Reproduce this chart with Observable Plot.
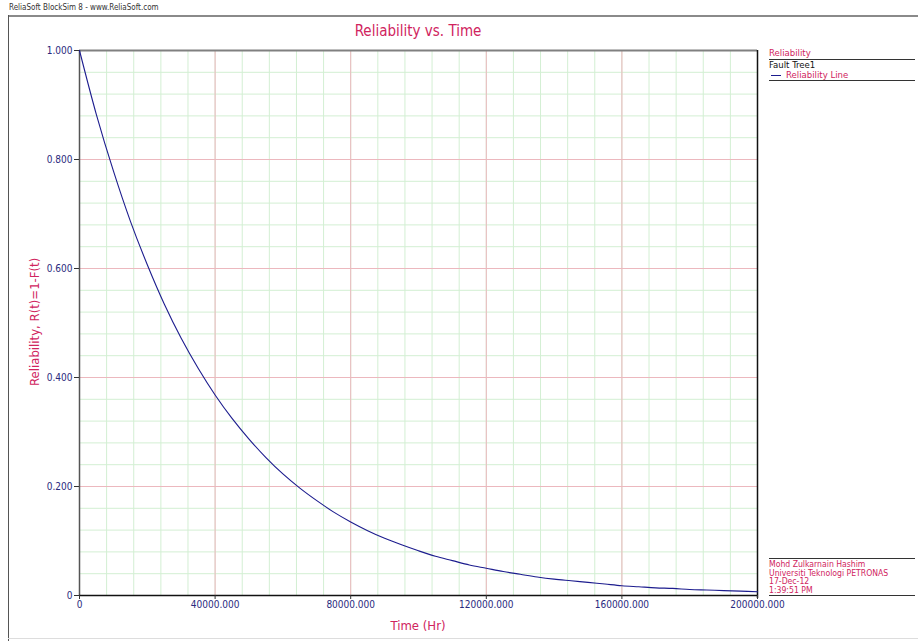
<!DOCTYPE html>
<html>
<head>
<meta charset="utf-8">
<script src="https://cdn.jsdelivr.net/npm/d3@7"></script>
<script src="https://cdn.jsdelivr.net/npm/@observablehq/plot@0.6"></script>
<style>
  html, body { margin: 0; padding: 0; background: #fff; }
  #wrap { position: relative; width: 918px; height: 641px; overflow: hidden; font-family: "DejaVu Sans Condensed", "DejaVu Sans", sans-serif; }
  #wrap svg { position: absolute; left: 0; top: 0; }
  .abs { position: absolute; white-space: nowrap; }
  .hl { position: absolute; height: 0; }
</style>
</head>
<body>
<div id="wrap"></div>
<script>
// ---- data ----
const timeHr = [0, 5000, 10000, 15000, 20000, 25000, 30000, 35000, 40000, 45000, 50000,
  55000, 60000, 65000, 70000, 75000, 80000, 85000, 90000, 95000, 100000,
  105000, 110000, 115000, 120000, 125000, 130000, 135000, 140000, 145000, 150000,
  155000, 160000, 165000, 170000, 175000, 180000, 185000, 190000, 195000, 200000];
const reliability = [1.000, 0.882, 0.779, 0.687, 0.607, 0.535, 0.472, 0.417, 0.368, 0.325, 0.287,
  0.253, 0.223, 0.197, 0.174, 0.153, 0.135, 0.119, 0.105, 0.093, 0.082,
  0.072, 0.064, 0.056, 0.050, 0.044, 0.039, 0.034, 0.030, 0.027, 0.024,
  0.021, 0.018, 0.016, 0.014, 0.013, 0.011, 0.010, 0.009, 0.008, 0.007];
const xMajorTicks = [0, 40000, 80000, 120000, 160000, 200000];
const xMinorTicks = d3.range(0, 200001, 8000);
const yMajorTicks = [0, 0.2, 0.4, 0.6, 0.8, 1.0];
const yMinorTicks = d3.range(0, 26).map(i => i * 0.04);
const titleText = "Reliability vs. Time";
const xLabel = "Time (Hr)";
const yLabel = "Reliability, R(t)=1-F(t)";
const headerText = "ReliaSoft BlockSim 8 - www.ReliaSoft.com";
const legendTitle = "Reliability";
const legendGroup = "Fault Tree1";
const legendSeries = "Reliability Line";
const footerLines = ["Mohd Zulkarnain Hashim", "Universiti Teknologi PETRONAS", "17-Dec-12", "1:39:51 PM"];

const data = timeHr.map((t, i) => ({t, r: reliability[i]}));
const fmt = v => v === 0 ? "0" : v.toFixed(3);
const navy = "#2a2a7e";
const font = '"DejaVu Sans Condensed", "DejaVu Sans", sans-serif';

const chart = Plot.plot({
  width: 918,
  height: 641,
  marginLeft: 79,
  marginRight: 161,
  marginTop: 50,
  marginBottom: 46,
  style: {fontFamily: font, fontSize: "10px", background: "transparent"},
  x: {domain: [0, 200000]},
  y: {domain: [0, 1]},
  marks: [
    Plot.ruleX(xMinorTicks, {stroke: "#d3efd3", strokeWidth: 1}),
    Plot.ruleY(yMinorTicks, {stroke: "#d3efd3", strokeWidth: 1}),
    Plot.ruleX(xMajorTicks, {stroke: "#ecb8be", strokeWidth: 1}),
    Plot.ruleY(yMajorTicks, {stroke: "#ecb8be", strokeWidth: 1}),
    Plot.ruleY([1], {stroke: "#808080", strokeWidth: 2}),
    Plot.ruleX([200000], {stroke: "#111", strokeWidth: 1.5, y1: 1, y2: 0, insetBottom: -3}),
    Plot.ruleX([0], {stroke: "#555", strokeWidth: 1.5}),
    Plot.ruleY([0], {stroke: "#111", strokeWidth: 1.5}),
    Plot.axisX({ticks: xMajorTicks, tickFormat: fmt, tickSize: 4, tickPadding: 1, color: navy, stroke: "#333", label: null, fontSize: 10}),
    Plot.axisY({ticks: yMajorTicks, tickFormat: fmt, tickSize: 5, tickPadding: 2, color: navy, stroke: "#333", label: null, fontSize: 10}),
    Plot.line(data, {x: "t", y: "r", stroke: "#1c1c8e", strokeWidth: 1.1, curve: "catmull-rom"})
  ]
});

const wrap = document.getElementById("wrap");
wrap.appendChild(chart);

function addText(txt, left, top, style) {
  const d = document.createElement("div");
  d.className = "abs";
  d.textContent = txt;
  d.style.left = left + "px";
  d.style.top = top + "px";
  Object.assign(d.style, style || {});
  wrap.appendChild(d);
  return d;
}
function addLine(x1, y, x2, color, w) {
  const d = document.createElement("div");
  d.className = "hl";
  d.style.left = x1 + "px";
  d.style.top = y + "px";
  d.style.width = (x2 - x1) + "px";
  d.style.borderTop = (w || 1) + "px solid " + color;
  wrap.appendChild(d);
}
function addVLine(x, y1, y2, color, w) {
  const d = document.createElement("div");
  d.className = "hl";
  d.style.left = x + "px";
  d.style.top = y1 + "px";
  d.style.height = (y2 - y1) + "px";
  d.style.borderLeft = (w || 1) + "px solid " + color;
  wrap.appendChild(d);
}

const crim = "#d0245e";
// header + frame
addText(headerText, 9, 3, {fontSize: "8px", color: "#333"});
addLine(8, 15, 918, "#8a8a8a", 2);
addVLine(8, 15, 641, "#555", 1);
addLine(8, 638, 918, "#ddd", 1);

// title & axis labels
addText(titleText, 0, 22, {fontSize: "15px", color: crim, width: "836px", textAlign: "center"});
addText(xLabel, 0, 618, {fontSize: "13px", color: crim, width: "836px", textAlign: "center"});
const yl = addText(yLabel, 0, 0, {fontSize: "13px", color: crim, transformOrigin: "0 0"});
yl.style.left = "27px";
yl.style.top = (322 + yl.offsetWidth / 2) + "px";
yl.style.transform = "rotate(-90deg)";

// legend
addText(legendTitle, 769, 47, {fontSize: "9.5px", color: crim, lineHeight: "11px"});
addLine(769, 59, 915, "#333", 1);
addText(legendGroup, 769, 60, {fontSize: "9.5px", color: "#111", lineHeight: "10px"});
addLine(771, 75, 781, "#1c1c8e", 1);
addText(legendSeries, 786, 70, {fontSize: "9.5px", color: crim, lineHeight: "10px"});
addLine(769, 80, 915, "#333", 1);

// footer block
addLine(769, 558, 915, "#333", 1);
footerLines.forEach((s, i) => addText(s, 769, 560 + i * 8.6, {fontSize: "8.6px", color: crim, lineHeight: "8.6px"}));
addLine(769, 595, 915, "#333", 1);
</script>
</body>
</html>
